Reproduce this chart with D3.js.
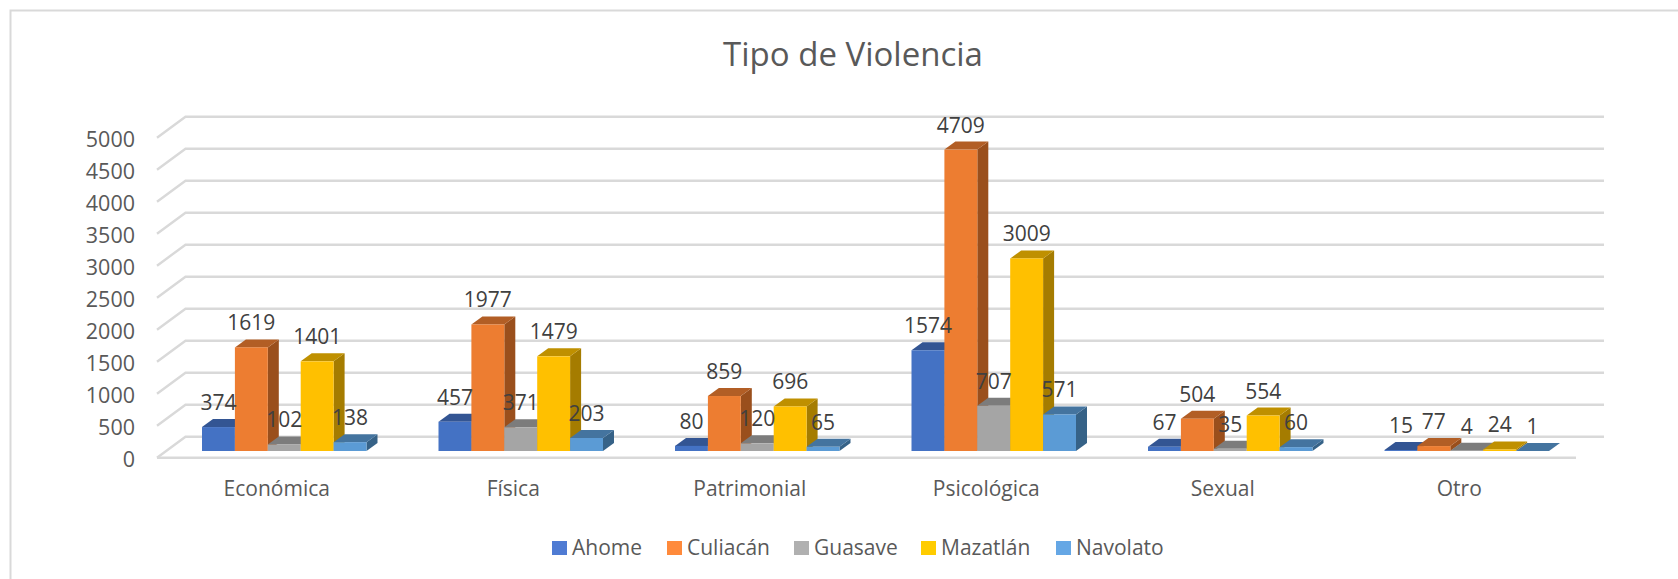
<!DOCTYPE html>
<html>
  <head>
    <title>Tipo de Violencia</title>
    <meta charset="utf-8">
    <style>
      body { margin:0; background-color:white; }
      text { font-family:"Open Sans", sans-serif; }
      .grid { fill:none; stroke:#d9d9d9; stroke-width:2.4; }
      .axis path, .axis line { display:none; }
      .axis text { font-size:21px; fill:#595959; font-family:"Open Sans", sans-serif; }
      .y.axis text { font-size:21.5px; }
      .label { font-size:21px; fill:#404040; text-anchor:middle; }
      .legend { font-size:21px; fill:#595959; }
    </style>
  </head>
  <body>
  <svg class="graph" width="1678" height="579"></svg>
  <script src="https://d3js.org/d3.v7.min.js"></script>
  <script>

  var categories = ["Económica", "Física", "Patrimonial", "Psicológica", "Sexual", "Otro"];
  var seriesNames = ["Ahome", "Culiacán", "Guasave", "Mazatlán", "Navolato"];
  var ahome = [374, 457, 80, 1574, 67, 15];
  var culiacan = [1619, 1977, 859, 4709, 504, 77];
  var guasave = [102, 371, 120, 707, 35, 4];
  var mazatlan = [1401, 1479, 696, 3009, 554, 24];
  var navolato = [138, 203, 65, 571, 60, 1];
  var yTicks = [0, 500, 1000, 1500, 2000, 2500, 3000, 3500, 4000, 4500, 5000];

  var seriesValues = [ahome, culiacan, guasave, mazatlan, navolato];
  var front = ["#4472C4", "#ED7D31", "#A5A5A5", "#FFC000", "#5B9BD5"];
  var top3d = ["#335593", "#B25E25", "#7C7C7C", "#BF9000", "#44749F"];
  var side3d = ["#2A4A80", "#9A4F1C", "#6B6B6B", "#A57C00", "#366287"];
  var legendColors = ["#4F7BD3", "#FF8A3B", "#B0B0B0", "#FFCC00", "#65A7E5"];

  var graph = d3.select("svg");

  // frame around the chart, runs off the right side of the picture
  graph.append("path")
    .attr("d", "M10.5,579V10.5H1678")
    .attr("fill", "none")
    .attr("stroke", "#d9d9d9")
    .attr("stroke-width", 2);

  graph.append("text")
    .attr("x", 853)
    .attr("y", 66)
    .style("text-anchor", "middle")
    .style("font-size", "33px")
    .style("fill", "#595959")
    .text("Tipo de Violencia");

  // offsets of the fake 3d box
  var wallDx = 28.5, wallDy = 21;
  var barDx = 11, barDy = 8;

  var x = d3.scaleBand()
    .domain(categories)
    .range([167, 1586]);

  var y = d3.scaleLinear()
    .domain([0, 5000])
    .range([457.7, 137.7]);

  // bars stand a bit behind the front edge of the floor
  var baseShift = y(0) - 451;
  var barW = 32.9;
  var barX = d3.scaleBand()
    .domain(d3.range(5))
    .range([0, barW * 5]);

  // back wall + side wall lines
  graph.selectAll("path.grid")
    .data(yTicks)
    .enter().append("path")
    .attr("class", "grid")
    .attr("d", function(d) {
      var p = d3.path();
      p.moveTo(157, y(d));
      p.lineTo(157 + wallDx, y(d) - wallDy);
      p.lineTo(1604, y(d) - wallDy);
      return p.toString();
    });

  graph.append("line")
    .attr("class", "grid")
    .attr("x1", 157)
    .attr("x2", 1576)
    .attr("y1", y(0))
    .attr("y2", y(0));

  var yAxis = d3.axisLeft(y)
    .tickValues(yTicks)
    .tickFormat(d3.format("d"))
    .tickSize(0)
    .tickPadding(0);

  graph.append("g")
    .attr("class", "y axis")
    .attr("transform", "translate(135,2)")
    .call(yAxis);

  var xAxis = d3.axisBottom(x)
    .tickSize(0)
    .tickPadding(0);

  graph.append("g")
    .attr("class", "x axis")
    .attr("transform", "translate(-8.5,481)")
    .call(xAxis);

  var groups = graph.selectAll("g.cat")
    .data(categories)
    .enter().append("g")
    .attr("class", "cat")
    .attr("transform", function(d) {
      return "translate(" + (x(d) + (x.bandwidth() - barW * 5) / 2 - 1) + ",0)";
    });

  groups.each(function(cat, c) {
    var g = d3.select(this);
    seriesValues.forEach(function(vals, s) {
      var x0 = barX(s), x1 = x0 + barW;
      var yb = y(0) - baseShift, yt = y(vals[c]) - baseShift;

      g.append("path")
        .attr("fill", side3d[s])
        .attr("d", "M" + x1 + "," + yb + "L" + (x1 + barDx) + "," + (yb - barDy) + "L" + (x1 + barDx) + "," + (yt - barDy) + "L" + x1 + "," + yt + "Z");

      g.append("path")
        .attr("fill", top3d[s])
        .attr("d", "M" + x0 + "," + yt + "L" + (x0 + barDx) + "," + (yt - barDy) + "L" + (x1 + barDx) + "," + (yt - barDy) + "L" + x1 + "," + yt + "Z");

      g.append("rect")
        .attr("fill", front[s])
        .attr("x", x0)
        .attr("y", yt)
        .attr("width", barW)
        .attr("height", yb - yt);
    });
  });

  // labels go on top of every bar
  groups.each(function(cat, c) {
    var g = d3.select(this);
    seriesValues.forEach(function(vals, s) {
      g.append("text")
        .attr("class", "label")
        .attr("x", barX(s) + barW / 2)
        .attr("y", y(vals[c]) - baseShift - 17)
        .text(vals[c]);
    });
  });

  // legend
  var legendX = [552, 667, 794, 921, 1056];
  var legend = graph.selectAll("g.leg")
    .data(seriesNames)
    .enter().append("g")
    .attr("class", "leg")
    .attr("transform", function(d, i) { return "translate(" + legendX[i] + ",541)"; });

  legend.append("rect")
    .attr("width", 15)
    .attr("height", 14)
    .attr("fill", function(d, i) { return legendColors[i]; });

  legend.append("text")
    .attr("class", "legend")
    .attr("x", 20)
    .attr("y", 14)
    .text(function(d) { return d; });

  </script>
  </body>
</html>
